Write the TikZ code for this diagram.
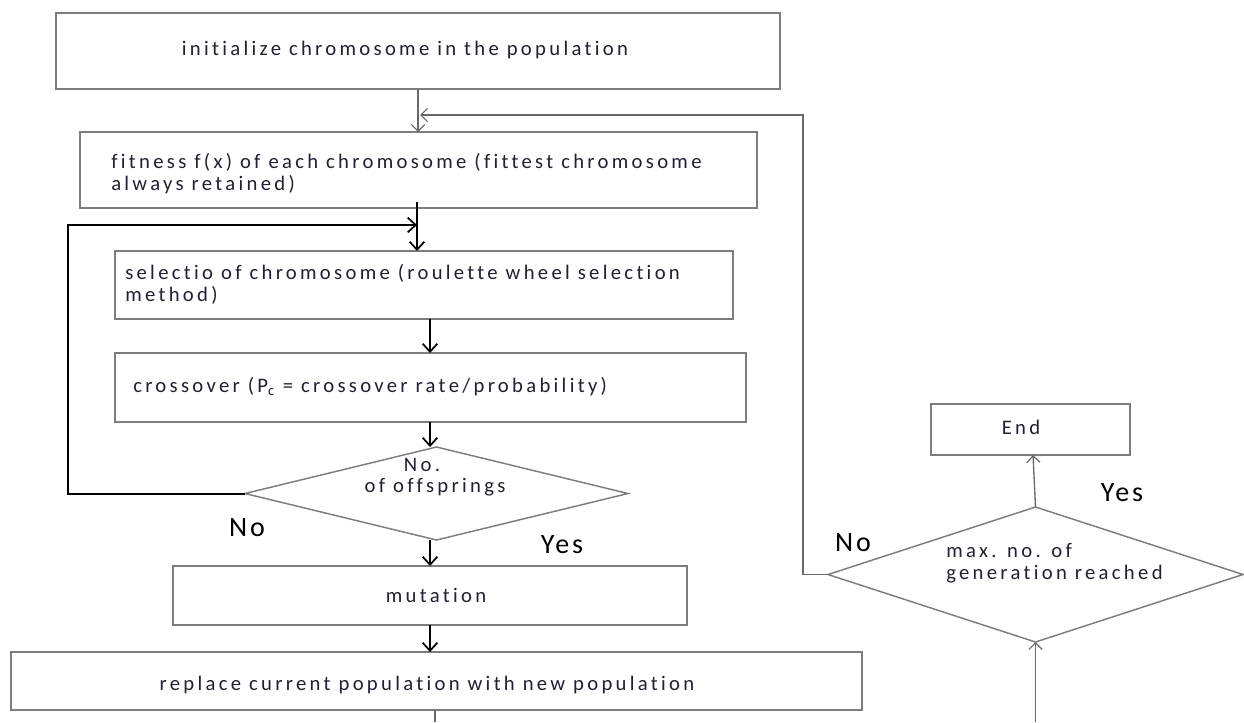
\documentclass[tikz,border=0pt]{standalone}
\usepackage{fontspec}
\setmainfont{Carlito}
\newfontfamily\bodyf[LetterSpace=16,Ligatures=NoCommon]{Carlito}
\newfontfamily\lblf[LetterSpace=10,Ligatures=NoCommon]{Carlito}
\usetikzlibrary{arrows.meta,shapes.geometric}
\definecolor{boxgray}{RGB}{125,125,125}
\definecolor{linegray}{RGB}{105,105,105}
\definecolor{txtcol}{RGB}{35,30,50}
\begin{document}
\begin{tikzpicture}[x=0.75pt,y=-0.75pt,
  boxst/.style={draw=boxgray, line width=1.3pt, rectangle, inner sep=0pt, outer sep=0pt},
  diast/.style={draw=boxgray, line width=1.1pt, shape=diamond, inner sep=0pt, outer sep=0pt},
  txt/.style={font=\bodyf\fontsize{15.5}{16.5}\selectfont, text=txtcol, inner sep=0pt},
  lbl/.style={font=\lblf\fontsize{21}{22}\selectfont, text=black, inner sep=0pt},
  barrow/.style={draw=black, line width=1.5pt, -{Straight Barb[length=6pt,width=11pt,line width=1.3pt]}},
  bline/.style={draw=black, line width=1.5pt},
  garrow/.style={draw=linegray, line width=1pt, -{Straight Barb[length=5pt,width=10pt,line width=0.9pt]}},
  gline/.style={draw=linegray, line width=1pt}]
\useasboundingbox (0,0) rectangle (1244,722);

% boxes
\node[boxst, minimum width=543pt, minimum height=57pt] (box1) at (418,51) {};
\node[boxst, minimum width=507.75pt, minimum height=57pt] (box2) at (418.5,170) {};
\node[boxst, minimum width=463.5pt, minimum height=51pt] (sel) at (424,285) {};
\node[boxst, minimum width=473.25pt, minimum height=51.75pt] (cross) at (430.5,387.5) {};
\node[diast, minimum width=287.25pt, minimum height=69.75pt] (dia1) at (436.5,493.5) {};
\node[boxst, minimum width=385.5pt, minimum height=44.25pt] (mut) at (430,595.5) {};
\node[boxst, minimum width=638.25pt, minimum height=43.5pt] (rep) at (436.5,681) {};
\node[boxst, minimum width=149.25pt, minimum height=38.25pt] (endb) at (1030.5,429.5) {};
\node[diast, minimum width=311.25pt, minimum height=101.25pt] (dia2) at (1035.5,574.5) {};

% texts
\node[txt] (t1) at (405,50) {initialize chromosome in the population};
\node[txt, anchor=west, align=left] (t2) at (111,174) {fitness f(x) of each chromosome (fittest chromosome\\always retained)};
\node[txt, anchor=west, align=left] (t3) at (125,284) {selectio of chromosome (roulette wheel selection\\method)};
\node[txt, anchor=west] (t4) at (133,387) {crossover (P\textsubscript{c} = crossover rate/probability)};
\node[txt] (t5a) at (422,465) {No.};
\node[txt] (t5b) at (435,487) {of offsprings};
\node[txt] (t6) at (436,595) {mutation};
\node[txt] (t7) at (427,685) {replace current population with new population};
\node[txt] (t8) at (1021,427) {End};
\node[txt, anchor=west, align=left] (t9) at (946,563) {max. no. of\\generation reached};

% branch labels
\node[lbl] (no1) at (247,528) {No};
\node[lbl] (yes1) at (562,545) {Yes};
\node[lbl] (no2) at (853,543) {No};
\node[lbl] (yes2) at (1122,493) {Yes};

% helper coordinates
\coordinate (cA) at (418,0);
\coordinate (cRet) at (803,115);
\coordinate (cRetEnd) at (420,115);
\coordinate (cL) at (68,225);
\coordinate (cLend) at (417,225);
\coordinate (cBs) at (417,202);
\coordinate (cB) at (417,0);
\coordinate (cC) at (430,0);
\coordinate (cDbot) at (435,722);
\coordinate (cD) at (435,0);
\coordinate (cEbot) at (1035.5,722);
\coordinate (cF) at (1033,0);

% connectors
\draw[garrow] (box1.south -| cA) -- (box2.north -| cA);
\draw[garrow] (dia2.west) -| (cRet) -- (cRetEnd);
\draw[barrow] (dia1.west) -| (cL) -- (cLend);
\draw[barrow] (cBs) -- (sel.north -| cB);
\draw[barrow] (sel.south -| cC) -- (cross.north -| cC);
\draw[barrow] (cross.south -| cC) -- (dia1.north -| cC);
\draw[barrow] (dia1.south -| cC) -- (mut.north -| cC);
\draw[barrow] (mut.south -| cC) -- (rep.north -| cC);
\draw[gline] (rep.south -| cD) -- (cDbot);
\draw[garrow] (cEbot) -- (dia2.south);
\draw[garrow] (dia2.north) -- (endb.south -| cF);
\end{tikzpicture}
\end{document}
